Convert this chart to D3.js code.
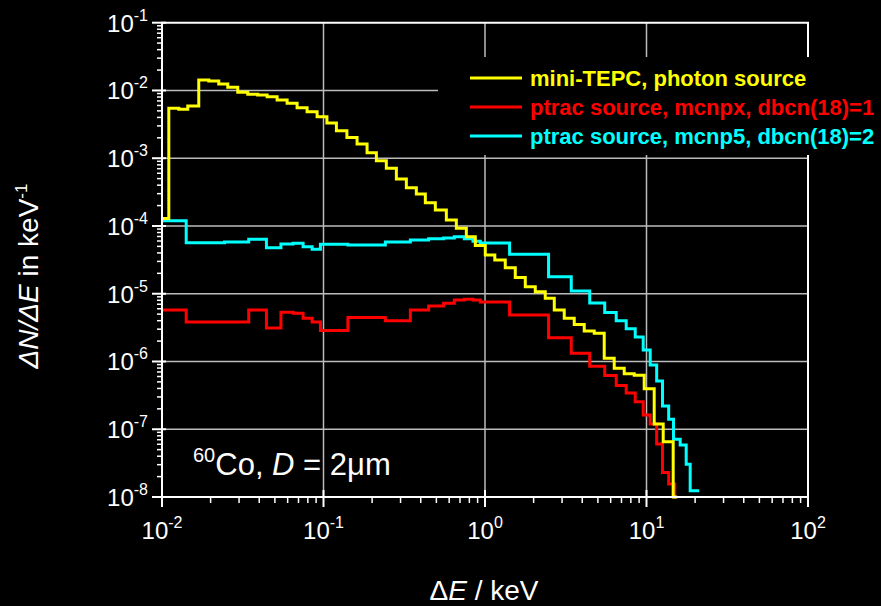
<!DOCTYPE html>
<html>
<head>
<meta charset="utf-8">
<script src="https://cdn.jsdelivr.net/npm/d3@7"></script>
<style>
  html, body { margin: 0; padding: 0; background: #000; }
  svg { display: block; font-family: "Liberation Sans", Arial, sans-serif; }
</style>
</head>
<body>
<svg id="chart" width="881" height="606"></svg>
<script>
// Pulse-height spectra, dN/dE per keV versus energy deposit (keV)

// mini-TEPC, photon source: bin edges (keV) and bin contents
const tepcEdges = [0.01, 0.01102, 0.01271, 0.01444, 0.01689, 0.01949, 0.02246, 0.02554, 0.02945, 0.03396,
  0.03915, 0.04477, 0.05162, 0.05953, 0.06863, 0.07916, 0.09128, 0.1050, 0.1202, 0.1396,
  0.1614, 0.1861, 0.2125, 0.2449, 0.2826, 0.3258, 0.3757, 0.4272, 0.4926, 0.5762,
  0.6645, 0.7663, 0.8710, 1.004, 1.150, 1.335, 1.540, 1.776, 2.048, 2.361,
  2.685, 3.095, 3.569, 4.116, 4.747, 5.473, 6.311, 7.278, 8.394, 9.678,
  11.16, 12.69, 14.63, 15.49];
const tepcValues = [1.288e-4, 5.44e-3, 5.27e-3, 5.89e-3, 1.426e-2, 1.377e-2, 1.245e-2, 1.111e-2, 9.39e-3, 8.77e-3,
  8.57e-3, 8.09e-3, 7.23e-3, 6.46e-3, 5.56e-3, 4.85e-3, 4.10e-3, 3.30e-3, 2.55e-3, 2.03e-3,
  1.62e-3, 1.205e-3, 9.18e-4, 7.10e-4, 4.93e-4, 3.67e-4, 2.97e-4, 2.20e-4, 1.72e-4, 1.225e-4,
  9.22e-5, 6.95e-5, 5.15e-5, 3.72e-5, 3.15e-5, 2.42e-5, 1.73e-5, 1.27e-5, 1.07e-5, 8.55e-6,
  5.75e-6, 4.34e-6, 3.52e-6, 2.82e-6, 2.61e-6, 1.114e-6, 7.92e-7, 6.61e-7, 6.28e-7, 3.96e-7,
  1.194e-7, 6.55e-8, 1e-8];

// ptrac source, mcnpx, dbcn(18)=1
const mcnpxEdges = [0.01, 0.01412, 0.02436, 0.03444, 0.04432, 0.05450, 0.06484, 0.07477, 0.08502, 0.09568,
  0.1416, 0.2415, 0.3450, 0.4477, 0.5545, 0.6457, 0.7447, 0.8426, 0.9352, 1.420,
  2.475, 3.420, 4.451, 5.512, 6.494, 7.487, 8.515, 9.541, 10.54, 11.56,
  12.56, 13.72, 14.95, 15.27];
const mcnpxValues = [5.75e-6, 3.83e-6, 3.83e-6, 5.75e-6, 3.12e-6, 5.32e-6, 5.14e-6, 4.34e-6, 3.83e-6, 2.86e-6,
  4.46e-6, 4.00e-6, 5.75e-6, 6.59e-6, 7.23e-6, 8.07e-6, 8.28e-6, 8.07e-6, 7.55e-6, 4.85e-6,
  2.24e-6, 1.32e-6, 8.49e-7, 6.21e-7, 4.43e-7, 3.43e-7, 2.55e-7, 1.62e-7, 1.194e-7, 6.05e-8,
  2.29e-8, 1.56e-8, 1e-8];

// ptrac source, mcnp5, dbcn(18)=2
const mcnp5Edges = [0.01, 0.01412, 0.02436, 0.03444, 0.04432, 0.05450, 0.06484, 0.07477, 0.08502, 0.09568,
  0.1416, 0.2415, 0.3450, 0.4477, 0.5545, 0.6457, 0.7447, 0.8426, 0.9352, 1.420,
  2.475, 3.420, 4.451, 5.512, 6.494, 7.487, 8.515, 9.541, 10.54, 11.56,
  12.56, 13.72, 14.69, 16.17, 17.61, 18.64, 21.20];
const mcnp5Values = [1.197e-4, 5.66e-5, 5.79e-5, 6.35e-5, 4.78e-5, 5.42e-5, 5.55e-5, 4.94e-5, 4.53e-5, 5.36e-5,
  5.24e-5, 5.79e-5, 6.21e-5, 6.49e-5, 6.64e-5, 6.95e-5, 6.49e-5, 5.94e-5, 5.61e-5, 3.82e-5,
  1.78e-5, 1.096e-5, 7.29e-6, 5.28e-6, 4.00e-6, 3.03e-6, 2.30e-6, 1.475e-6, 8.87e-7, 5.16e-7,
  2.20e-7, 1.404e-7, 7.11e-8, 5.85e-8, 3.04e-8, 1.24e-8];

const seriesNames = ["mini-TEPC, photon source", "ptrac source, mcnpx, dbcn(18)=1", "ptrac source, mcnp5, dbcn(18)=2"];
const seriesColors = ["#ffff00", "#ff0000", "#00ffff"];

// axis decades (exponents of ten)
const xExponents = [-2, -1, 0, 1, 2];
const yExponents = [-8, -7, -6, -5, -4, -3, -2, -1];
const xTickLabels = ["-2", "-1", "0", "1", "2"];
const yTickLabels = ["-8", "-7", "-6", "-5", "-4", "-3", "-2", "-1"];

const svg = d3.select("#chart");
const W = 881, H = 606;
const plotLeft = 162, plotRight = 808, plotTop = 22.7, plotBottom = 497;

svg.append("rect").attr("width", W).attr("height", H).attr("fill", "#000");

const x = d3.scaleLog().domain([1e-2, 1e2]).range([plotLeft, plotRight]);
const y = d3.scaleLog().domain([1e-8, 1e-1]).range([plotBottom, plotTop]);

// grid
const grid = svg.append("g").attr("stroke", "#bcbcbc").attr("stroke-width", 1.5);
xExponents.slice(1, -1).forEach(e => {
  grid.append("line").attr("x1", x(10 ** e)).attr("x2", x(10 ** e)).attr("y1", plotTop).attr("y2", plotBottom);
});
yExponents.slice(1, -1).forEach(e => {
  grid.append("line").attr("x1", plotLeft).attr("x2", plotRight).attr("y1", y(10 ** e)).attr("y2", y(10 ** e));
});

// step curves
function stepPoints(edges, values) {
  const pts = values.map((v, i) => [edges[i], v]);
  pts.push([edges[edges.length - 1], values[values.length - 1]]);
  return pts;
}
const line = d3.line().x(d => x(d[0])).y(d => y(d[1])).curve(d3.curveStepAfter);
const series = [
  [tepcEdges, tepcValues],
  [mcnpxEdges, mcnpxValues],
  [mcnp5Edges, mcnp5Values]
];
svg.append("clipPath").attr("id", "plotclip").append("rect")
  .attr("x", plotLeft).attr("y", plotTop).attr("width", plotRight - plotLeft).attr("height", plotBottom - plotTop + 2);
const curves = svg.append("g").attr("clip-path", "url(#plotclip)");
[2, 1, 0].forEach(i => {
  curves.append("path")
    .attr("d", line(stepPoints(series[i][0], series[i][1])))
    .attr("fill", "none")
    .attr("stroke", seriesColors[i])
    .attr("stroke-width", 3)
    .attr("stroke-linejoin", "miter");
});

// frame and axes
const axes = svg.append("g").attr("stroke", "#fff").attr("fill", "none");
axes.append("path").attr("stroke-width", 2)
  .attr("d", `M${plotLeft},${plotBottom}V${plotTop}H${plotRight}V${plotBottom}Z`);

// y ticks
yExponents.forEach((e, i) => {
  const yy = y(10 ** e);
  axes.append("line").attr("x1", plotLeft - 10).attr("x2", plotLeft + 4).attr("y1", yy).attr("y2", yy).attr("stroke-width", 2);
  if (i < yExponents.length - 1) {
    for (let m = 2; m <= 9; m++) {
      const ym = y(m * 10 ** e);
      axes.append("line").attr("x1", plotLeft - 5).attr("x2", plotLeft).attr("y1", ym).attr("y2", ym).attr("stroke-width", 1.5);
    }
  }
});
// x ticks
xExponents.forEach((e, i) => {
  const xx = x(10 ** e);
  axes.append("line").attr("x1", xx).attr("x2", xx).attr("y1", plotBottom - 7).attr("y2", plotBottom + 10).attr("stroke-width", 2);
  if (i < xExponents.length - 1) {
    for (let m = 2; m <= 9; m++) {
      const xm = x(m * 10 ** e);
      axes.append("line").attr("x1", xm).attr("x2", xm).attr("y1", plotBottom).attr("y2", plotBottom + 6).attr("stroke-width", 1.5);
    }
  }
});

// tick labels
const labels = svg.append("g").attr("fill", "#fff");
yExponents.forEach((e, i) => {
  const t = labels.append("text").attr("x", 148).attr("y", y(10 ** e) + 9)
    .attr("text-anchor", "end").attr("font-size", 24);
  t.append("tspan").text("10");
  t.append("tspan").attr("font-size", 16).attr("dy", -11).text(yTickLabels[i]);
});
xExponents.forEach((e, i) => {
  const t = labels.append("text").attr("x", x(10 ** e)).attr("y", 539)
    .attr("text-anchor", "middle").attr("font-size", 24);
  t.append("tspan").text("10");
  t.append("tspan").attr("font-size", 16).attr("dy", -11).text(xTickLabels[i]);
});

// axis titles
const xt = labels.append("text").attr("x", 484).attr("y", 600).attr("text-anchor", "middle").attr("font-size", 28);
xt.append("tspan").text("Δ");
xt.append("tspan").attr("font-style", "italic").text("E");
xt.append("tspan").text(" / keV");

const yt = labels.append("text").attr("transform", "translate(38,276) rotate(-90)")
  .attr("text-anchor", "middle").attr("font-size", 28);
yt.append("tspan").attr("font-style", "italic").text("ΔN/ΔE");
yt.append("tspan").text(" in keV");
yt.append("tspan").attr("font-size", 17).attr("dy", -11).text("-1");

// annotation
const ann = labels.append("text").attr("x", 193).attr("y", 475).attr("font-size", 31);
ann.append("tspan").attr("font-size", 20).attr("dy", -13).text("60");
ann.append("tspan").attr("dy", 13).text("Co, ");
ann.append("tspan").attr("font-style", "italic").text("D");
ann.append("tspan").text(" = 2μm");

// legend
const lg = svg.append("g");
lg.append("rect").attr("x", 438).attr("y", 57).attr("width", W - 438).attr("height", 98).attr("fill", "#000");
const rowY = [78, 107, 136];
seriesNames.forEach((name, i) => {
  lg.append("line").attr("x1", 470).attr("x2", 522).attr("y1", rowY[i]).attr("y2", rowY[i])
    .attr("stroke", seriesColors[i]).attr("stroke-width", 3);
  lg.append("text").attr("x", 530).attr("y", rowY[i] + 8)
    .attr("font-size", 22).attr("font-weight", "bold").attr("fill", seriesColors[i]).text(name);
});
</script>
</body>
</html>
